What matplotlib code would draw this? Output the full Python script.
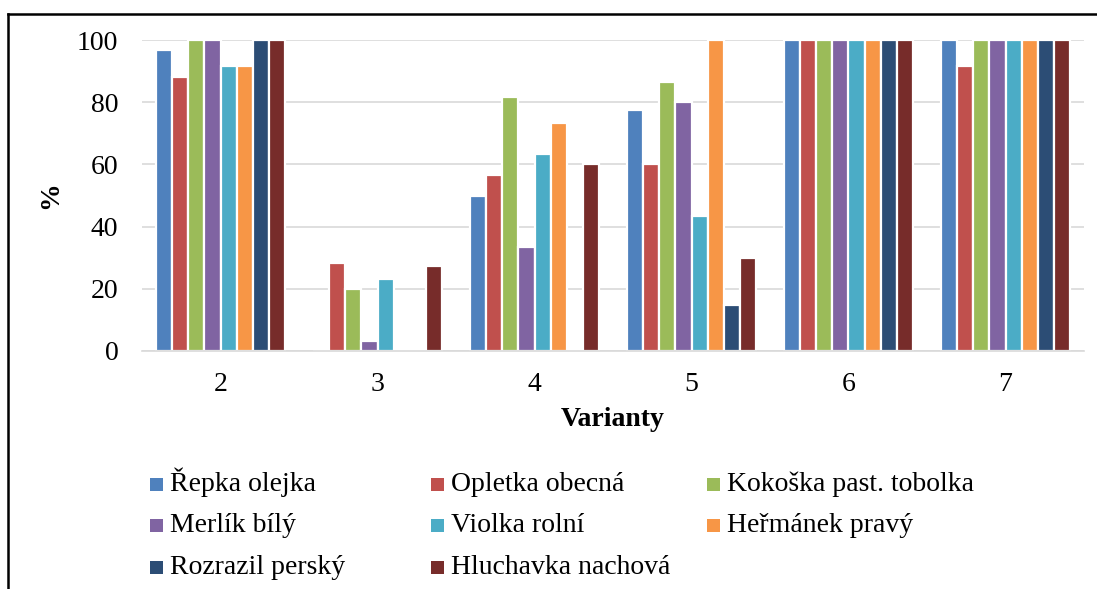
import matplotlib
matplotlib.use("Agg")
import matplotlib.pyplot as plt
import numpy as np
from matplotlib.lines import Line2D
from matplotlib.patches import Rectangle

plt.rcParams['font.family'] = ['Liberation Serif', 'DejaVu Serif']

categories = ["2", "3", "4", "5", "6", "7"]
series_names = ["Řepka olejka", "Opletka obecná", "Kokoška past. tobolka",
                "Merlík bílý", "Violka rolní", "Heřmánek pravý",
                "Rozrazil perský", "Hluchavka nachová"]
repka = [96.7, 0, 50.0, 77.4, 100, 100]
opletka = [88.2, 28.3, 56.5, 60.0, 100, 91.6]
kokoska = [100, 20.0, 81.8, 86.5, 100, 100]
merlik = [100, 3.3, 33.3, 80.0, 100, 100]
violka = [91.6, 23.3, 63.4, 43.3, 100, 100]
hermanek = [91.6, 0, 73.2, 100, 100, 100]
rozrazil = [100, 0, 0, 14.7, 100, 100]
hluchavka = [100, 27.4, 60.0, 30.0, 100, 100]
series_values = [repka, opletka, kokoska, merlik, violka, hermanek, rozrazil, hluchavka]
colors = ["#4F81BD", "#C0504D", "#9BBB59", "#8064A2", "#4BACC6", "#F79646", "#2C4D75", "#772C2A"]
yticks = [0, 20, 40, 60, 80, 100]

FS = 20
W, H = 1097, 589
fig = plt.figure(figsize=(W / 100, H / 100), dpi=100)
ax = fig.add_axes([142 / W, 1 - 351 / H, (1084 - 142) / W, (351 - 40) / H])

x = np.arange(len(categories))
n = len(series_values)
bw = 0.817 / n
for i, (vals, c) in enumerate(zip(series_values, colors)):
    offs = (i - (n - 1) / 2) * bw
    ax.bar(x + offs, vals, width=bw, color=c, edgecolor="white", linewidth=1.6, zorder=3)

ax.set_xlim(-0.5, len(categories) - 0.5)
ax.set_ylim(0, 100)
ax.set_yticks(yticks)
ax.set_yticklabels([str(v) for v in yticks])
ax.set_xticks(x)
ax.set_xticklabels(categories)
ax.tick_params(axis="both", length=0, labelsize=FS, colors="black")
ax.tick_params(axis="y", pad=17)
ax.tick_params(axis="x", pad=15)
ax.grid(axis="y", color="#D9D9D9", linewidth=1.2, zorder=0)
for s in ["top", "right", "left"]:
    ax.spines[s].set_visible(False)
ax.spines["bottom"].set_color("#D9D9D9")
ax.spines["bottom"].set_linewidth(1.2)
ax.spines["bottom"].set_zorder(4)

ax.set_xlabel("Varianty", fontsize=FS, fontweight="bold", labelpad=7)
fig.text(51 / W, 1 - 195 / H, "%", rotation=90, fontsize=FS, fontweight="bold",
         ha="center", va="center")

# Legend (manual grid, row-major)
col_x = [150, 431, 707]
row_y = [484, 525, 567]
msz = 13
for i, (name, c) in enumerate(zip(series_names, colors)):
    r, col = divmod(i, 3)
    px, py = col_x[col], row_y[r]
    fig.patches.append(Rectangle((px / W, 1 - (py + msz / 2) / H), msz / W, msz / H,
                                 transform=fig.transFigure, facecolor=c,
                                 edgecolor="none"))
    fig.text((px + 20) / W, 1 - (py + 7) / H, name, fontsize=FS, ha="left", va="baseline")

# Outer border (left and top)
fig.add_artist(Line2D([8 / W, 8 / W], [0, 1 - 14 / H], transform=fig.transFigure,
                      color="black", linewidth=1.8))
fig.add_artist(Line2D([8 / W, 1], [1 - 14 / H, 1 - 14 / H], transform=fig.transFigure,
                      color="black", linewidth=1.8))

fig.savefig("out.png", dpi=100)
